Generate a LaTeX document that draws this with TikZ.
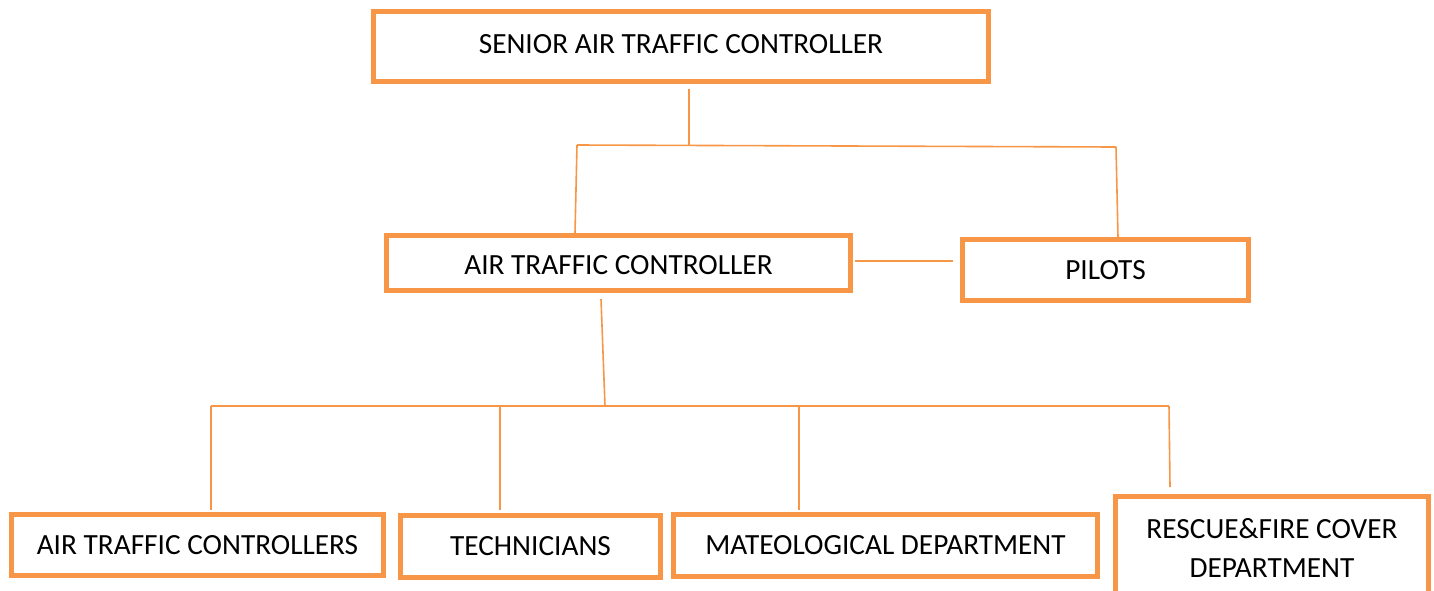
\documentclass[tikz,border=0pt]{standalone}
\usepackage{fontspec}
\setmainfont{Carlito}
\definecolor{accent}{HTML}{F79646}
\begin{document}
\begin{tikzpicture}[x=1pt,y=-1pt,
  box/.style={draw=accent, line width=5pt, fill=white, inner sep=0pt,
    font=\fontsize{29.3}{39}\selectfont, align=center},
  link/.style={draw=accent, line width=1.6pt}]
\useasboundingbox (0,0) rectangle (1434,590);
\clip (0,0) rectangle (1434,590);

% boxes
\node[box, minimum width=615pt, minimum height=70pt, text depth=6pt] (senior) at (681,46.5) {SENIOR AIR TRAFFIC CONTROLLER};
\node[box, minimum width=464pt, minimum height=55pt, text height=24pt] (atc) at (618.5,263) {AIR TRAFFIC CONTROLLER};
\node[box, minimum width=286pt, minimum height=61pt] (pilots) at (1105.5,270) {PILOTS};
\node[box, minimum width=372pt, minimum height=61pt] (atcs) at (197.5,545) {AIR TRAFFIC CONTROLLERS};
\node[box, minimum width=260pt, minimum height=62pt] (tech) at (530.5,546.5) {TECHNICIANS};
\node[box, minimum width=424pt, minimum height=62pt] (meteo) at (885.5,545.5) {MATEOLOGICAL DEPARTMENT};
\node[box, minimum width=313pt, minimum height=102pt] (rescue) at (1272,547.5) {RESCUE\&FIRE COVER\\DEPARTMENT};

% junction points of the tree
\coordinate (s0) at (689,89);
\coordinate (s1) at (689,145);
\coordinate (sl) at (577,145);
\coordinate (sr) at (1116,147);
\coordinate (al) at (575,233);
\coordinate (pl) at (1118,237);
\coordinate (ae) at (855,261);
\coordinate (pe) at (953,261);
\coordinate (a0) at (601,299);
\coordinate (a1) at (605,406);
\coordinate (b1) at (211,406);
\coordinate (b2) at (500,406);
\coordinate (b3) at (799,406);
\coordinate (b4) at (1169,406);
\coordinate (e1) at (211,510);
\coordinate (e2) at (500,510);
\coordinate (e3) at (799,510);
\coordinate (e4) at (1170,487);

% connectors
\draw[link] (s0) -- (s1);
\draw[link] (sl) -- (sr);
\draw[link] (sl) -- (al);
\draw[link] (sr) -- (pl);
\draw[link] (ae) -- (pe);
\draw[link] (a0) -- (a1);
\draw[link] (b1) -- (b4);
\draw[link] (b1) -- (e1);
\draw[link] (b2) -- (e2);
\draw[link] (b3) -- (e3);
\draw[link] (b4) -- (e4);
\end{tikzpicture}
\end{document}
